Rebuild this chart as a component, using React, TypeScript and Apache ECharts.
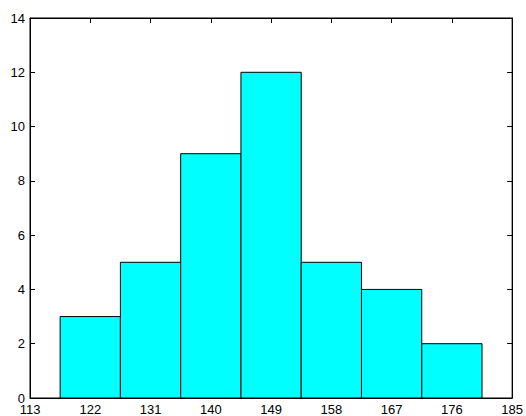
import React, { useEffect, useRef } from "react";
import * as echarts from "echarts";

const binCenters = [122, 131, 140, 149, 158, 167, 176];
const counts = [3, 5, 9, 12, 5, 4, 2];
const binWidth = 9;
const xMin = 113;
const xMax = 185;
const xStep = 9;
const yMin = 0;
const yMax = 14;
const yStep = 2;

export default function App() {
  const ref = useRef<HTMLDivElement>(null);
  useEffect(() => {
    document.body.style.margin = "0";
    if (!ref.current) return;
    const chart = echarts.init(ref.current, null, { renderer: "svg" });
    const font = { fontFamily: "Liberation Sans", fontSize: 13, color: "#000" };
    const tick = { show: true, inside: true, length: 5, lineStyle: { color: "#000", width: 1 } };
    chart.setOption({
      animation: false,
      backgroundColor: "#fff",
      grid: {
        left: 30,
        right: 13,
        top: 18,
        bottom: 18,
        show: true,
        borderColor: "#000",
        borderWidth: 1,
        backgroundColor: "transparent",
      },
      xAxis: [
        {
          type: "value",
          min: xMin,
          max: xMax,
          interval: xStep,
          position: "bottom",
          axisLine: { show: true, onZero: false, lineStyle: { color: "#000", width: 1 } },
          axisTick: tick,
          axisLabel: { ...font, margin: 5, showMinLabel: true, showMaxLabel: true },
          splitLine: { show: false },
        },
        {
          type: "value",
          min: xMin,
          max: xMax,
          interval: xStep,
          position: "top",
          axisLine: { show: true, onZero: false, lineStyle: { color: "#000", width: 1 } },
          axisTick: tick,
          axisLabel: { show: false },
          splitLine: { show: false },
        },
      ],
      yAxis: [
        {
          type: "value",
          min: yMin,
          max: yMax,
          interval: yStep,
          position: "left",
          axisLine: { show: true, onZero: false, lineStyle: { color: "#000", width: 1 } },
          axisTick: tick,
          axisLabel: { ...font, margin: 5 },
          splitLine: { show: false },
        },
        {
          type: "value",
          min: yMin,
          max: yMax,
          interval: yStep,
          position: "right",
          axisLine: { show: true, onZero: false, lineStyle: { color: "#000", width: 1 } },
          axisTick: tick,
          axisLabel: { show: false },
          splitLine: { show: false },
        },
      ],
      series: [
        {
          type: "custom",
          xAxisIndex: 0,
          yAxisIndex: 0,
          data: binCenters.map((c, i) => [c, counts[i]]),
          renderItem: (params: any, api: any) => {
            const c = api.value(0);
            const v = api.value(1);
            const p0 = api.coord([c - binWidth / 2, v]);
            const p1 = api.coord([c + binWidth / 2, 0]);
            return {
              type: "rect",
              shape: { x: p0[0], y: p0[1], width: p1[0] - p0[0], height: p1[1] - p0[1] },
              style: { fill: "#00ffff", stroke: "#000", lineWidth: 1 },
            };
          },
        },
      ],
    });
    return () => chart.dispose();
  }, []);
  return <div ref={ref} style={{ width: 526, height: 416 }} />;
}
